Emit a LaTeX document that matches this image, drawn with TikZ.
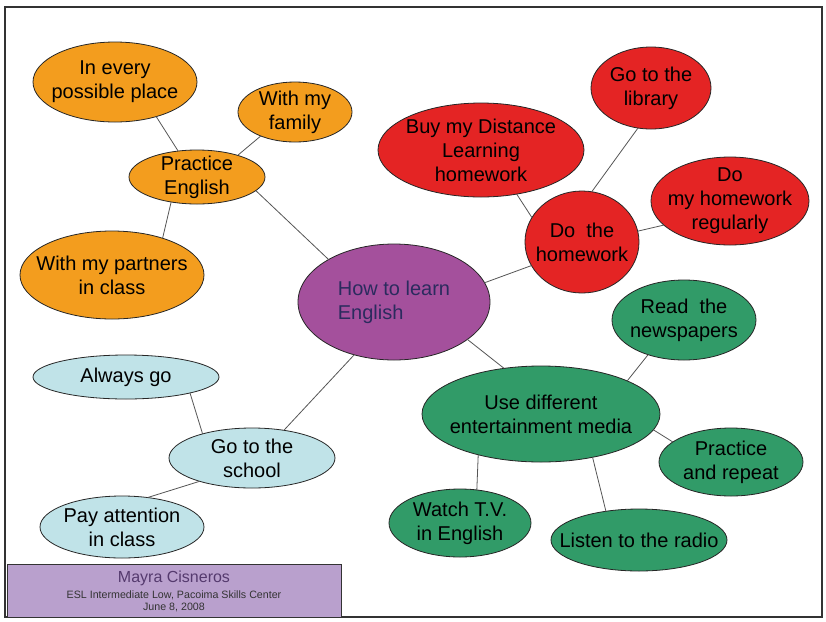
\documentclass[tikz,border=0pt]{standalone}
\usepackage{fontspec}
\setmainfont{Liberation Sans}
\usetikzlibrary{shapes.geometric}
\definecolor{corange}{HTML}{F39D1E}
\definecolor{cred}{HTML}{E42424}
\definecolor{cpurple}{HTML}{A4509C}
\definecolor{cgreen}{HTML}{319B68}
\definecolor{cblue}{HTML}{C0E3E8}
\definecolor{cfoot}{HTML}{B9A0CD}
\definecolor{cframe}{HTML}{333333}
\definecolor{cline}{HTML}{555555}
\definecolor{cnavy}{HTML}{2B2B5E}
\definecolor{cname}{HTML}{553A6E}
\tikzset{
  bubble/.style={ellipse, draw=black!85, line width=0.6pt, inner sep=-40pt, outer sep=0pt,
    align=center, font=\fontsize{15}{18}\selectfont},
  orangeb/.style={bubble, fill=corange},
  redb/.style={bubble, fill=cred},
  greenb/.style={bubble, fill=cgreen},
  blueb/.style={bubble, fill=cblue},
  purpleb/.style={bubble, fill=cpurple, align=left, text=cnavy},
  conn/.style={draw=cline, line width=0.6pt},
  foottext/.style={anchor=base, inner sep=0pt}
}
\begin{document}
\begin{tikzpicture}[x=0.75pt,y=-0.75pt]
\useasboundingbox (0,0) rectangle (826,622);
\fill[white] (0,0) rectangle (826,622);
\draw[cframe, line width=1.8pt] (5,7) rectangle (822,617);

% orange cluster
\node[orangeb, minimum width=164*0.75pt, minimum height=80*0.75pt] (every) at (115,82) {In every\\possible place};
\node[orangeb, minimum width=114*0.75pt, minimum height=60*0.75pt] (family) at (295,112) {With my\\family};
\node[orangeb, minimum width=136*0.75pt, minimum height=54*0.75pt] (practice) at (197,177) {Practice\\English};
\node[orangeb, minimum width=184*0.75pt, minimum height=88*0.75pt] (partners) at (112,275) {With my partners\\in class};

% center
\node[purpleb, minimum width=192*0.75pt, minimum height=116*0.75pt] (how) at (394,302) {How to learn\\English};

% red cluster
\node[redb, minimum width=206*0.75pt, minimum height=94*0.75pt] (buy) at (481,150) {Buy my Distance\\Learning\\homework};
\node[redb, minimum width=120*0.75pt, minimum height=82*0.75pt] (library) at (651,88) {Go to the\\library};
\node[redb, minimum width=114*0.75pt, minimum height=102*0.75pt] (dohw) at (582,242) {Do\ \ the\\homework};
\node[redb, minimum width=158*0.75pt, minimum height=88*0.75pt] (regularly) at (730,201) {Do\\my homework\\regularly};

% green cluster
\node[greenb, minimum width=144*0.75pt, minimum height=80*0.75pt] (read) at (684,320) {Read\ \ the\\newspapers};
\node[greenb, minimum width=238*0.75pt, minimum height=96*0.75pt] (use) at (541,414) {Use different\\entertainment media};
\node[greenb, minimum width=144*0.75pt, minimum height=68*0.75pt] (repeat) at (731,462) {Practice\\and repeat};
\node[greenb, minimum width=142*0.75pt, minimum height=68*0.75pt] (watch) at (460,523) {Watch T.V.\\in English};
\node[greenb, minimum width=176*0.75pt, minimum height=62*0.75pt] (listen) at (639,540) {Listen to the radio};

% blue cluster
\node[blueb, minimum width=186*0.75pt, minimum height=44*0.75pt] (always) at (126,377) {Always go};
\node[blueb, minimum width=166*0.75pt, minimum height=60*0.75pt] (school) at (252,458) {Go to the\\school};
\node[blueb, minimum width=164*0.75pt, minimum height=62*0.75pt] (pay) at (122,527) {Pay attention\\in class};

% connectors
\draw[conn] (every.-40) -- (practice.126);
\draw[conn] (family.-145) -- (practice.28);
\draw[conn] (practice.-136) -- (partners.36);
\draw[conn] (practice.-13) -- (how.147);
\draw[conn] (how.12) -- (dohw.-155);
\draw[conn] (buy.-51) -- (dohw.154);
\draw[conn] (library.-108) -- (dohw.79);
\draw[conn] (regularly.-160) -- (dohw.11);
\draw[conn] (how.-27) -- (use.129);
\draw[conn] (read.-136) -- (use.21);
\draw[conn] (use.-8) -- (repeat.161);
\draw[conn] (use.-147) -- (watch.63);
\draw[conn] (use.-40) -- (listen.139);
\draw[conn] (how.-127) -- (school.41);
\draw[conn] (always.-14) -- (school.154);
\draw[conn] (school.-156) -- (pay.49);

% footer
\node[draw=cframe, fill=cfoot, line width=0.75pt, rectangle, inner sep=0pt,
  minimum width=334*0.75pt, minimum height=53*0.75pt] (footer) at (174,590.5) {};
\node[foottext, text=cname, font=\fontsize{12}{14}\selectfont] (author) at (174,582) {Mayra Cisneros};
\node[foottext, text=black!80, font=\fontsize{8}{9}\selectfont] (course) at (174,598) {ESL Intermediate Low, Pacoima Skills Center};
\node[foottext, text=black!80, font=\fontsize{8}{9}\selectfont] (date) at (174,610) {June 8, 2008};
\end{tikzpicture}
\end{document}
